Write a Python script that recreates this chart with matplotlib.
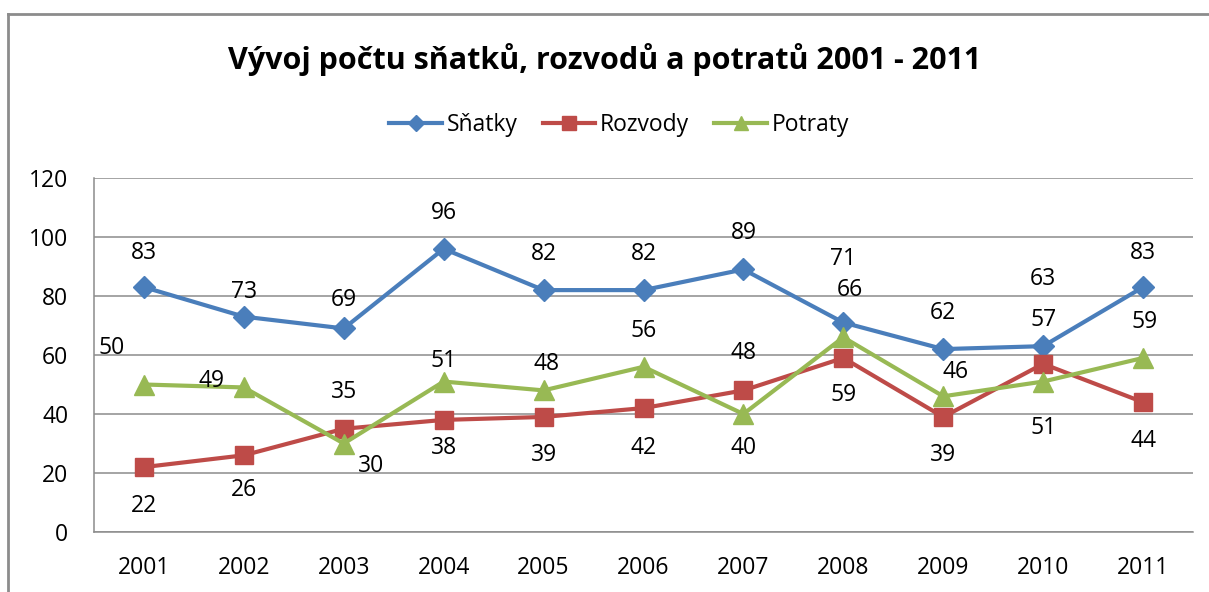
import matplotlib
matplotlib.use("Agg")
import matplotlib.pyplot as plt
from matplotlib.lines import Line2D

plt.rcParams["font.family"] = ["Open Sans", "DejaVu Sans"]

years = ["2001", "2002", "2003", "2004", "2005", "2006", "2007", "2008", "2009", "2010", "2011"]
snatky = [83, 73, 69, 96, 82, 82, 89, 71, 62, 63, 83]
rozvody = [22, 26, 35, 38, 39, 42, 48, 59, 39, 57, 44]
potraty = [50, 49, 30, 51, 48, 56, 40, 66, 46, 51, 59]

# data label offsets in pixels (dx, dy) - placed like in the Excel original
snatky_off = [(0, 34), (0, 25), (0, 28), (0, 36), (0, 36), (0, 36), (0, 36), (0, 64), (0, 36), (0, 67), (0, 34)]
rozvody_off = [(0, -39), (0, -35), (0, 37), (0, -28), (0, -38), (0, -40), (0, 37), (0, -37), (0, -38), (0, 44), (0, -39)]
potraty_off = [(-32, 37), (-32, 6), (27, -22), (0, 21), (3, 26), (0, 36), (0, -34), (7, 47), (12, 24), (0, -46), (2, 36)]

BLUE = "#4A7EBB"
RED = "#BE4B48"
GREEN = "#98B954"
FS = 16.5

fig = plt.figure(figsize=(12.09, 5.92), dpi=100)
ax = fig.add_axes([94 / 1209, 1 - 532 / 592, (1193 - 94) / 1209, (532 - 178) / 592])

x = list(range(len(years)))
series = [
    ("Sňatky", snatky, BLUE, "D", 11, snatky_off),
    ("Rozvody", rozvody, RED, "s", 13, rozvody_off),
    ("Potraty", potraty, GREEN, "^", 14, potraty_off),
]
for name, vals, color, marker, ms, offs in series:
    ax.plot(x, vals, color=color, linewidth=3, marker=marker, markersize=ms,
            markeredgecolor=color, label=name, zorder=3)
    for xi, v, (dx, dy) in zip(x, vals, offs):
        ax.annotate(str(v), (xi, v), xytext=(dx, dy), textcoords="offset pixels",
                    ha="center", va="center", fontsize=FS, color="black", zorder=4)

ax.set_xlim(-0.5, len(years) - 0.5)
ax.set_ylim(0, 120)
ax.set_yticks(range(0, 121, 20))
ax.set_xticks(x)
ax.set_xticklabels(years)
ax.tick_params(length=0, labelsize=FS)
ax.tick_params(axis="x", pad=17)
ax.tick_params(axis="y", pad=18.5)
ax.grid(axis="y", color="#8C8C8C", linewidth=1.1)
ax.set_axisbelow(True)
for side in ["top", "right"]:
    ax.spines[side].set_visible(False)
for side in ["left", "bottom"]:
    ax.spines[side].set_color("#8C8C8C")
    ax.spines[side].set_linewidth(1.1)

fig.text(0.5, 1 - 60 / 592, "Vývoj počtu sňatků, rozvodů a potratů 2001 - 2011",
         ha="center", va="center", fontsize=22, fontweight="bold")

ax.legend(loc="center", bbox_to_anchor=(0.512, 1 - 125 / 592), bbox_transform=fig.transFigure,
          ncol=3, frameon=False, fontsize=FS, handlelength=2.3, handletextpad=0.2,
          columnspacing=1.1, markerscale=0.75)

# outer chart border (cropped at right and bottom)
fig.add_artist(Line2D([8 / 1209, 1.01], [1 - 14 / 592, 1 - 14 / 592], color="#8C8C8C", linewidth=2,
                      transform=fig.transFigure))
fig.add_artist(Line2D([8 / 1209, 8 / 1209], [1 - 14 / 592, -0.01], color="#8C8C8C", linewidth=2,
                      transform=fig.transFigure))

fig.savefig("out.png", dpi=100, facecolor="white")
